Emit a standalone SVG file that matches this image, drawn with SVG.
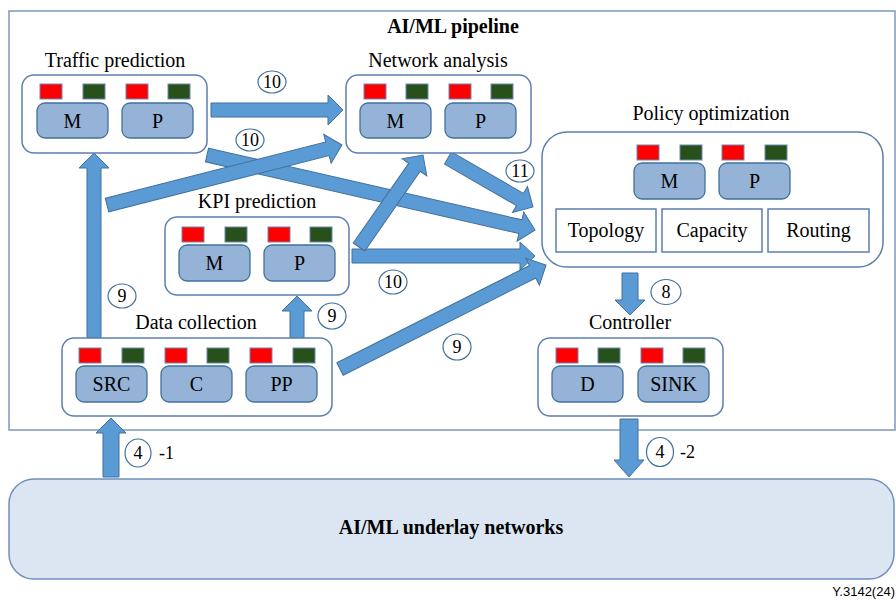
<svg xmlns="http://www.w3.org/2000/svg" width="896" height="600" viewBox="0 0 896 600">
  <style>
    .frame { fill: #ffffff; stroke: #7d98c0; stroke-width: 1.5; }
    .node { fill: #ffffff; stroke: #5b7fae; stroke-width: 1.5; }
    .mod { fill: #95b3d7; stroke: #41719c; stroke-width: 1.3; }
    .red { fill: #ff0000; stroke: #6f86b0; stroke-width: 1; }
    .grn { fill: #28501a; stroke: #6f86b0; stroke-width: 1; }
    .cell { fill: #ffffff; stroke: #5b7fae; stroke-width: 1.5; }
    .arrow { fill: #5b9bd5; stroke: #41719c; stroke-width: 1; }
    .num { fill: #ffffff; stroke: #41719c; stroke-width: 1.2; }
    .under { fill: #dce6f2; stroke: #6f8fbd; stroke-width: 1.5; }
    text { font-family: "Liberation Serif", "Times New Roman", serif; fill: #000000; }
    .title { font-size: 20px; text-anchor: middle; }
    .bold { font-size: 20px; font-weight: bold; text-anchor: middle; }
    .lbl { font-size: 20px; text-anchor: middle; }
    .n { font-size: 18px; text-anchor: middle; }
    .suffix { font-size: 18px; }
    .ref { font-family: "Liberation Sans", Arial, sans-serif; font-size: 13px; text-anchor: end; }
  </style>

  <!-- pipeline frame -->
  <rect class="frame" x="9" y="11" width="886" height="419"/>
  <text class="bold" x="453" y="33">AI/ML pipeline</text>

  <!-- underlay -->
  <g id="underlay">
    <rect class="under" x="9" y="479" width="885" height="100" rx="25"/>
    <text class="bold" x="451" y="534">AI/ML underlay networks</text>
  </g>

  <!-- connectors -->
  <g id="connectors">
    <!-- traffic -> policy -->
    <path class="arrow" transform="translate(207,155) rotate(12.88)" d="M0,-7 H321.5 V-15 L336.5,0 L321.5,15 V7 H0 Z"/>
    <!-- data -> network -->
    <path class="arrow" transform="translate(107,205) rotate(-14.32)" d="M0,-7 H227.5 V-15 L242.5,0 L227.5,15 V7 H0 Z"/>
    <!-- traffic -> network -->
    <polygon class="arrow" points="211,103 328,103 328,95 343,110 328,125 328,117 211,117"/>
    <!-- data -> traffic -->
    <polygon class="arrow" points="87,338 87,168 79,168 94,153 109,168 101,168 101,338"/>
    <!-- network -> policy -->
    <path class="arrow" transform="translate(448,158) rotate(29.96)" d="M0,-7 H83.1 V-15 L98.1,0 L83.1,15 V7 H0 Z"/>
    <!-- KPI -> policy -->
    <polygon class="arrow" points="352,249 520,249 520,242 535,256 520,270 520,263 352,263"/>
    <!-- KPI -> network -->
    <path class="arrow" transform="translate(359,247) rotate(-55.18)" d="M0,-7 H97.1 V-15 L112.1,0 L97.1,15 V7 H0 Z"/>
    <!-- data -> policy -->
    <path class="arrow" transform="translate(340,369) rotate(-26.79)" d="M0,-7 H215.8 V-15 L230.8,0 L215.8,15 V7 H0 Z"/>
    <!-- data -> KPI -->
    <polygon class="arrow" points="290,338 290,311 282,311 297,296 312,311 304,311 304,338"/>
    <!-- policy -> controller -->
    <polygon class="arrow" points="622,273 638,273 638,300 645,300 630,315 615,300 622,300"/>
    <!-- underlay -> data -->
    <polygon class="arrow" points="103,477 103,433 96,433 111,418 126,433 119,433 119,477"/>
    <!-- controller -> underlay -->
    <polygon class="arrow" points="620,419 638,419 638,460 644,460 629,477 614,460 620,460"/>

    <!-- step numbers -->
    <ellipse class="num" cx="272" cy="82" rx="14" ry="11"/>
    <text class="n" x="272" y="88">10</text>
    <ellipse class="num" cx="250" cy="140" rx="14" ry="11"/>
    <text class="n" x="250" y="146">10</text>
    <ellipse class="num" cx="520" cy="171" rx="14" ry="11"/>
    <text class="n" x="520" y="177">11</text>
    <ellipse class="num" cx="393" cy="282" rx="14" ry="12"/>
    <text class="n" x="393" y="288">10</text>
    <ellipse class="num" cx="122" cy="296" rx="14" ry="12"/>
    <text class="n" x="122" y="302">9</text>
    <ellipse class="num" cx="332" cy="316" rx="14" ry="13"/>
    <text class="n" x="332" y="322">9</text>
    <ellipse class="num" cx="457" cy="347" rx="14" ry="13"/>
    <text class="n" x="457" y="353">9</text>
    <ellipse class="num" cx="666" cy="292" rx="15" ry="12.5"/>
    <text class="n" x="666" y="298">8</text>
    <ellipse class="num" cx="138" cy="453" rx="13" ry="14"/>
    <text class="n" x="138" y="459">4</text>
    <text class="suffix" x="159" y="459">-1</text>
    <ellipse class="num" cx="660" cy="452" rx="13.5" ry="14.5"/>
    <text class="n" x="660" y="458">4</text>
    <text class="suffix" x="680" y="458">-2</text>
  </g>

  <!-- Traffic prediction -->
  <g id="traffic-prediction">
    <text class="title" x="115" y="67">Traffic prediction</text>
    <rect class="node" x="22" y="75" width="185" height="78" rx="12"/>
    <rect class="red" x="40" y="84" width="22" height="15"/>
    <rect class="grn" x="83" y="84" width="22" height="15"/>
    <rect class="red" x="126" y="84" width="22" height="15"/>
    <rect class="grn" x="168" y="84" width="22" height="15"/>
    <rect class="mod" x="37" y="103" width="71" height="35" rx="8"/>
    <text class="lbl" x="72.5" y="127.5">M</text>
    <rect class="mod" x="122" y="103" width="71" height="35" rx="8"/>
    <text class="lbl" x="157.5" y="127.5">P</text>
  </g>

  <!-- Network analysis -->
  <g id="network-analysis">
    <text class="title" x="438" y="67">Network analysis</text>
    <rect class="node" x="346" y="75" width="185" height="78" rx="12"/>
    <rect class="red" x="364" y="84" width="22" height="15"/>
    <rect class="grn" x="406" y="84" width="22" height="15"/>
    <rect class="red" x="449" y="84" width="22" height="15"/>
    <rect class="grn" x="491" y="84" width="22" height="15"/>
    <rect class="mod" x="360" y="103" width="71" height="35" rx="8"/>
    <text class="lbl" x="395.5" y="127.5">M</text>
    <rect class="mod" x="445" y="103" width="71" height="35" rx="8"/>
    <text class="lbl" x="480.5" y="127.5">P</text>
  </g>

  <!-- Policy optimization -->
  <g id="policy-optimization">
    <text class="title" x="711" y="120">Policy optimization</text>
    <rect class="node" x="542" y="132" width="341" height="135" rx="25"/>
    <rect class="red" x="637" y="145" width="22" height="15"/>
    <rect class="grn" x="680" y="145" width="22" height="15"/>
    <rect class="red" x="722" y="145" width="22" height="15"/>
    <rect class="grn" x="765" y="145" width="22" height="15"/>
    <rect class="mod" x="634" y="163" width="71" height="36" rx="8"/>
    <text class="lbl" x="669.5" y="188">M</text>
    <rect class="mod" x="719" y="163" width="71" height="36" rx="8"/>
    <text class="lbl" x="754.5" y="188">P</text>
    <rect class="cell" x="556" y="209" width="100" height="43"/>
    <text class="lbl" x="606" y="237">Topology</text>
    <rect class="cell" x="662" y="209" width="100" height="43"/>
    <text class="lbl" x="712" y="237">Capacity</text>
    <rect class="cell" x="768" y="209" width="101" height="43"/>
    <text class="lbl" x="818.5" y="237">Routing</text>
  </g>

  <!-- KPI prediction -->
  <g id="kpi-prediction">
    <text class="title" x="257" y="208">KPI prediction</text>
    <rect class="node" x="165" y="217" width="184" height="78" rx="12"/>
    <rect class="red" x="182" y="227" width="22" height="15"/>
    <rect class="grn" x="225" y="227" width="22" height="15"/>
    <rect class="red" x="268" y="227" width="22" height="15"/>
    <rect class="grn" x="310" y="227" width="22" height="15"/>
    <rect class="mod" x="179" y="245" width="71" height="36" rx="8"/>
    <text class="lbl" x="214.5" y="270">M</text>
    <rect class="mod" x="264" y="245" width="71" height="36" rx="8"/>
    <text class="lbl" x="299.5" y="270">P</text>
  </g>

  <!-- Data collection -->
  <g id="data-collection">
    <text class="title" x="196" y="329">Data collection</text>
    <rect class="node" x="62" y="338" width="270" height="78" rx="12"/>
    <rect class="red" x="79" y="348" width="22" height="15"/>
    <rect class="grn" x="122" y="348" width="22" height="15"/>
    <rect class="red" x="165" y="348" width="22" height="15"/>
    <rect class="grn" x="207" y="348" width="22" height="15"/>
    <rect class="red" x="250" y="348" width="22" height="15"/>
    <rect class="grn" x="293" y="348" width="22" height="15"/>
    <rect class="mod" x="76" y="366" width="71" height="36" rx="8"/>
    <text class="lbl" x="111.5" y="391">SRC</text>
    <rect class="mod" x="161" y="366" width="71" height="36" rx="8"/>
    <text class="lbl" x="196.5" y="391">C</text>
    <rect class="mod" x="246" y="366" width="71" height="36" rx="8"/>
    <text class="lbl" x="281.5" y="391">PP</text>
  </g>

  <!-- Controller -->
  <g id="controller">
    <text class="title" x="630" y="329">Controller</text>
    <rect class="node" x="538" y="338" width="185" height="78" rx="12"/>
    <rect class="red" x="556" y="348" width="22" height="15"/>
    <rect class="grn" x="598" y="348" width="22" height="15"/>
    <rect class="red" x="641" y="348" width="22" height="15"/>
    <rect class="grn" x="683" y="348" width="22" height="15"/>
    <rect class="mod" x="552" y="366" width="71" height="36" rx="8"/>
    <text class="lbl" x="587.5" y="391">D</text>
    <rect class="mod" x="638" y="366" width="71" height="36" rx="8"/>
    <text class="lbl" x="673.5" y="391">SINK</text>
  </g>

  <text class="ref" x="895" y="596">Y.3142(24)</text>
</svg>
